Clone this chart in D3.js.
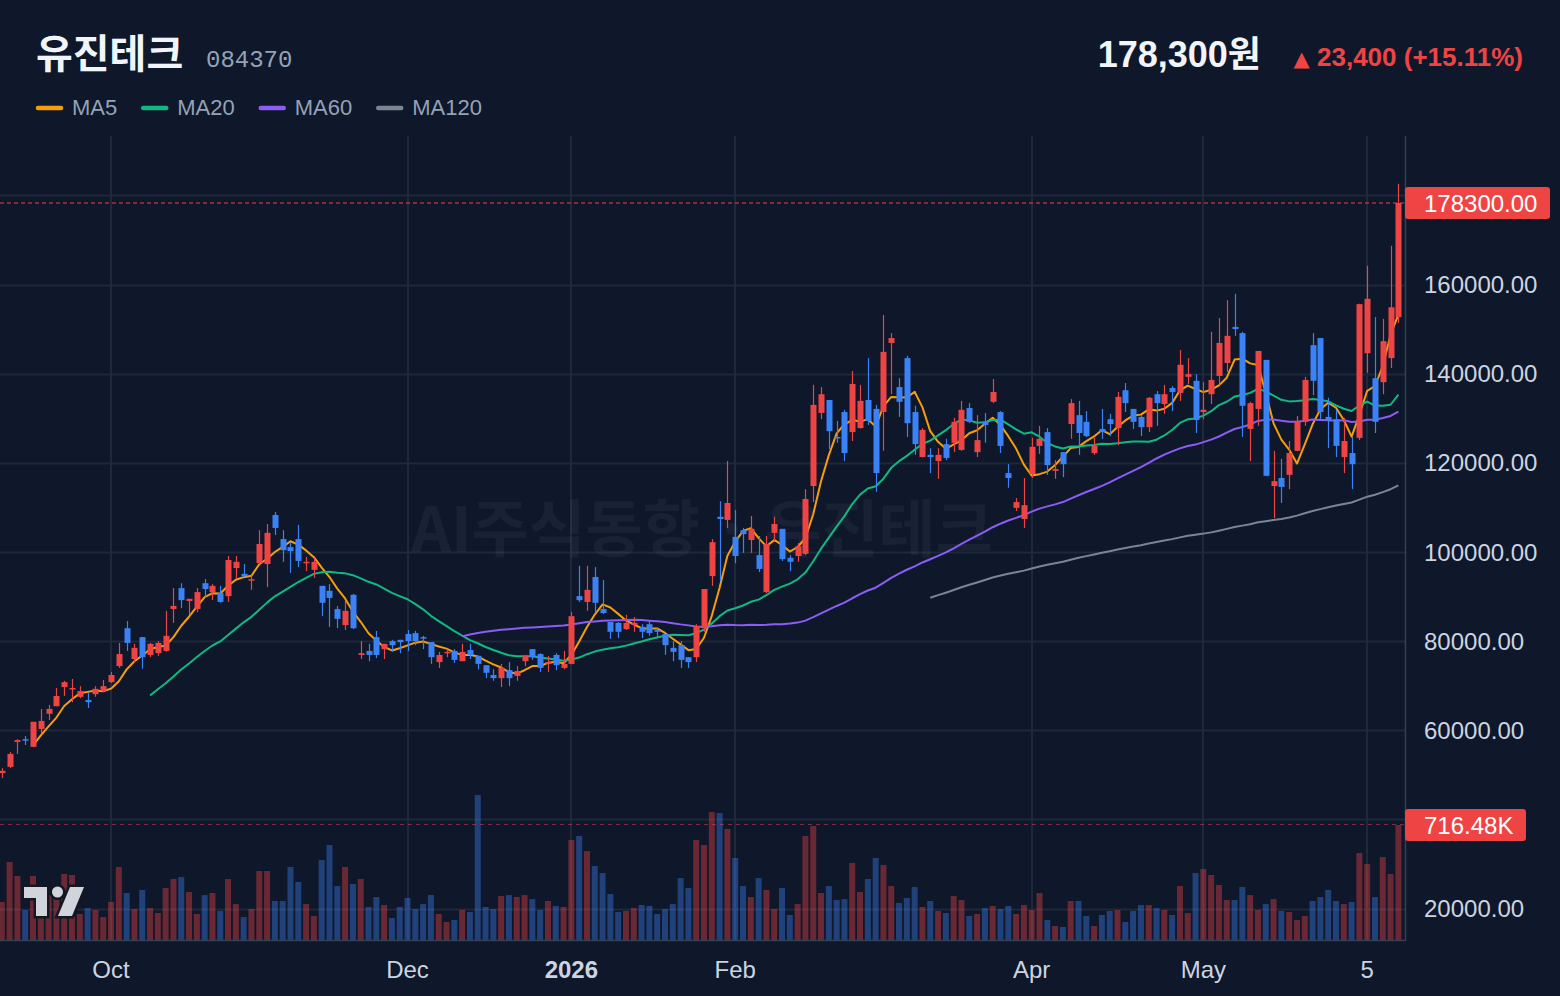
<!DOCTYPE html>
<html>
<head>
<meta charset="utf-8">
<script src="https://cdn.jsdelivr.net/npm/d3@7"></script>
<style>
  html, body { margin: 0; background: #0f172a; }
  svg { display: block; }
</style>
</head>
<body>
<svg id="chart"></svg>
<script>
// Chart size and plot box
const width = 1560, height = 996;
const plot = { left: 0, right: 1405, top: 136, bottom: 940 };

// Daily OHLC (won), oldest first
const opens = [50400,51800,57400,58000,56300,60300,63700,65400,69700,69300,67500,66800,68100,68800,70800,74400,82900,76000,80900,76900,
  77300,77800,87200,91900,89000,87200,93000,91000,90800,90100,96400,95100,93700,97500,97300,108300,102900,101100,102900,97500,
  96000,92400,91300,87200,83600,90400,76900,77800,80900,78200,80000,80300,81600,81800,80900,79800,75300,77300,77800,75500,
  78000,76700,74600,72400,71700,73500,72200,75500,78200,77100,74900,76900,74000,74900,90100,88800,94400,87200,84300,84100,
  82700,83600,83200,83800,82500,81600,78500,79100,76400,76400,82900,94600,107900,107200,103400,104900,102700,99300,91000,104300,
  105200,98700,99100,99600,114800,131200,134100,125800,131400,126900,127800,134100,132100,131400,146900,137000,143500,131400,121300,121800,
  120400,124200,124500,122900,132300,122400,129200,133700,131400,117700,109900,107400,117500,123800,126900,118200,122400,128700,130700,129200,
  122200,127600,129800,127800,136300,132100,130300,128000,135400,133200,136800,135700,139300,138400,131400,135400,139500,142400,150500,149100,
  127600,132100,143100,114800,116600,117300,122700,129200,146400,148000,130300,129800,121300,122200,125600,144600,139000,138100,143500,152700];
const highs = [51500,55100,58000,58700,61900,64800,65700,69500,71100,71500,69900,68400,69900,71300,73100,79600,84500,79400,80900,79600,
  80000,86800,91900,93000,89500,91900,93900,92800,92400,99100,99100,97300,94800,104900,106300,109000,104900,102200,106100,98900,
  98700,92400,92800,87900,89000,90600,80000,79400,82300,79400,80300,80300,82500,82300,81200,79800,77600,78200,78200,79400,
  79400,76700,74600,73700,74900,75300,74400,76900,78200,77300,76700,77300,77800,86500,96900,96900,96600,93700,84300,84300,
  85900,85400,83800,84700,82900,81600,80000,80000,76400,83800,91700,102900,111400,120400,109400,105400,108100,103600,103600,107900,
  105200,99300,102000,114100,137500,137000,134100,129400,131900,140600,137500,143500,133000,153200,149100,139000,144000,132800,127800,123300,
  123300,125400,130100,133900,133400,130700,131200,138800,131600,119700,112100,116600,125600,128300,127800,120600,122400,134300,133900,131600,
  125600,132100,131000,135900,137900,132100,130700,134800,136100,137500,137200,145300,143500,139900,138100,149400,152500,156500,157900,149400,
  133700,145100,143100,122700,120900,124900,130500,139300,149100,148000,134600,131900,130100,125800,155700,164200,152700,152300,168700,182600];
const lows = [49300,51500,54700,56700,56200,59400,62300,65400,67700,66300,67200,65000,67500,68600,70600,74000,77800,75300,73800,76400,
  76700,77600,84100,87400,85900,86500,89700,89200,88600,88800,93900,94400,91500,97300,92100,103800,97800,95300,96600,95700,
  94200,85600,83200,82900,82500,82700,76000,75500,76200,76000,77600,77300,77800,79100,78200,74900,74000,76400,75100,75500,
  76000,73700,71700,71100,69700,69900,71100,74400,75800,73100,73100,73500,73700,74800,88800,86800,86300,86100,80500,80700,
  82500,82100,80700,81200,80900,76900,75500,74000,74000,75300,82100,92400,93500,105400,97500,99800,99800,95500,90800,102200,
  98000,95700,97800,99300,111200,129800,123100,124500,120400,124900,127700,128500,113500,122700,135400,130300,125800,121800,121200,117700,
  116400,120600,122400,122700,128900,121300,124500,133400,122200,114400,109200,105400,116600,122000,117300,116400,116800,125400,121800,125800,
  121800,125400,126000,124000,131400,127600,126000,126900,128300,131000,131600,133900,137700,126700,129800,133200,137500,140400,148500,125800,
  120400,128300,117000,107600,111000,114100,122600,128300,135200,129800,123300,121300,117700,114100,125100,140200,126700,135400,141300,151400];
const closes = [50900,54700,57800,57800,61900,62100,64800,67700,70800,69500,68800,66300,69300,69900,72400,77100,79600,78500,76400,79400,
  79600,81200,87900,89200,89500,91000,91700,92400,88800,98200,97800,94600,93900,101800,104300,105400,100400,100200,98000,97800,
  97800,88600,89700,85000,86800,82900,77300,76900,76900,79400,79100,79800,80000,80000,80700,76400,76900,77600,75800,77600,
  76900,74900,72900,71700,74000,71700,73300,76700,76400,74000,75300,74600,74900,85600,89200,91500,88600,86300,82100,82100,
  84100,84100,82100,81800,82100,79100,77600,75800,75300,83400,91700,102200,107400,111000,99100,104000,105200,96200,101800,106300,
  98400,97800,101300,111900,133000,135400,127100,125600,122200,137700,133900,129400,117700,144900,148000,133700,128900,124200,127400,121300,
  121800,121100,129200,131900,129200,125100,128500,135900,123800,116600,111200,110500,123600,125400,119500,118600,119700,133400,126700,126000,
  123800,126900,128700,134800,133400,129200,128000,134600,133400,135400,135900,142000,139900,129600,131900,138600,146900,148500,150000,132800,
  133400,145100,117100,115900,114600,122200,129400,138600,138400,131400,129600,123800,124900,119700,155600,156800,129200,147300,154900,178300];
// Daily volume, thousands of shares
const volumesK = [237,486,399,187,399,312,280,299,411,405,162,199,187,143,237,455,293,193,312,199,
  168,324,380,392,299,162,280,293,181,380,224,143,193,430,430,243,243,455,361,224,
  150,498,592,336,455,349,380,206,268,218,137,206,262,193,224,280,162,112,125,187,
  174,903,206,193,274,280,268,280,255,187,243,212,206,623,648,554,461,417,287,174,
  181,199,218,212,162,193,224,386,324,623,592,797,791,692,511,336,268,386,312,193,
  324,156,224,648,710,293,336,249,255,480,299,380,511,467,336,231,262,330,206,243,
  181,168,274,249,150,162,199,212,193,212,162,218,187,293,125,87,81,243,243,150,
  87,156,181,187,112,181,218,218,199,187,156,336,168,417,442,405,343,249,249,330,
  280,187,224,255,181,174,125,150,243,268,312,243,224,237,542,473,268,517,411,716.48];

// Time axis ticks (bar index) and labels
const xTickIndex = [14, 52, 73, 94, 132, 154, 175];
const xTickLabels = ["Oct", "Dec", "2026", "Feb", "Apr", "May", "5"];
const priceTicks = [20000, 60000, 80000, 100000, 120000, 140000, 160000];

// Moving averages shown in legend
const maPeriods = [5, 20, 60, 120];
const maNames = ["MA5", "MA20", "MA60", "MA120"];
const maColors = ["#f59e0b", "#10b981", "#8b5cf6", "#7c8594"];

const upColor = "#ef4444", downColor = "#3b82f6";
const gridColor = "#1e293b";
const axisText = "#cbd5e1";

const n = closes.length;
const last = n - 1;
const lastVolume = volumesK[last] * 1000;

const svg = d3.select("#chart").attr("width", width).attr("height", height);

// Scales
const x = d3.scaleLinear().domain([0, n - 1]).range([1.8, 1398.4]);
const y = d3.scaleLinear().domain([20000, 180000]).range([908.6, 195.4]);
const yv = d3.scaleLinear().domain([0, lastVolume]).range([plot.bottom, 825]);

svg.append("defs").append("clipPath").attr("id", "plotclip")
  .append("rect").attr("x", plot.left).attr("y", plot.top)
  .attr("width", plot.right - plot.left).attr("height", plot.bottom - plot.top);

// Grid
const grid = svg.append("g");
grid.selectAll(".hg").data(d3.range(20000, 180001, 20000)).enter().append("line")
  .attr("x1", plot.left).attr("x2", plot.right)
  .attr("y1", d => Math.round(y(d)) + 0.5).attr("y2", d => Math.round(y(d)) + 0.5)
  .attr("stroke", gridColor).attr("stroke-width", 2);
grid.selectAll(".vg").data(xTickIndex).enter().append("line")
  .attr("x1", d => Math.round(x(d))).attr("x2", d => Math.round(x(d)))
  .attr("y1", plot.top).attr("y2", plot.bottom)
  .attr("stroke", gridColor).attr("stroke-width", 2);

// Watermark
svg.append("text")
  .attr("x", 702).attr("y", 552)
  .attr("text-anchor", "middle")
  .attr("font-family", "'Noto Sans CJK KR', 'Noto Sans', sans-serif")
  .attr("font-weight", 700).attr("font-size", 62)
  .attr("fill", "rgba(148,163,184,0.08)")
  .text("AI주식동향 · 유진테크");

const chart = svg.append("g").attr("clip-path", "url(#plotclip)");

// Volume bars
chart.append("g").selectAll("rect").data(d3.range(n)).enter().append("rect")
  .attr("x", i => x(i) - 3)
  .attr("width", 6)
  .attr("y", i => yv(volumesK[i] * 1000))
  .attr("height", i => plot.bottom - yv(volumesK[i] * 1000))
  .attr("fill", i => closes[i] >= opens[i] ? "rgba(239,68,68,0.4)" : "rgba(59,130,246,0.4)");

// Moving averages
function sma(p) {
  return closes.map((c, i) => i < p - 1 ? null : d3.mean(closes.slice(i - p + 1, i + 1)));
}
const maLine = d3.line()
  .defined(d => d.v != null)
  .x(d => x(d.i)).y(d => y(d.v));
maPeriods.forEach((p, k) => {
  const vals = sma(p).map((v, i) => ({ i, v }));
  chart.append("path").datum(vals)
    .attr("d", maLine)
    .attr("fill", "none")
    .attr("stroke", maColors[k])
    .attr("stroke-width", 2)
    .attr("stroke-linejoin", "round");
});

// Candles
const candles = chart.append("g").selectAll("g").data(d3.range(n)).enter().append("g");
candles.append("line")
  .attr("x1", i => Math.round(x(i)) + 0.5).attr("x2", i => Math.round(x(i)) + 0.5)
  .attr("y1", i => y(highs[i])).attr("y2", i => y(lows[i]))
  .attr("stroke", i => closes[i] >= opens[i] ? upColor : downColor)
  .attr("stroke-width", 1.2);
candles.append("rect")
  .attr("x", i => Math.round(x(i)) - 2.5)
  .attr("width", 6)
  .attr("y", i => y(Math.max(opens[i], closes[i])))
  .attr("height", i => Math.max(1.5, Math.abs(y(opens[i]) - y(closes[i]))))
  .attr("fill", i => closes[i] >= opens[i] ? upColor : downColor);

// Last price and last volume lines
svg.append("line")
  .attr("x1", plot.left).attr("x2", plot.right)
  .attr("y1", y(closes[last])).attr("y2", y(closes[last]))
  .attr("stroke", upColor).attr("stroke-width", 1).attr("stroke-dasharray", "4,3");
svg.append("line")
  .attr("x1", plot.left).attr("x2", plot.right)
  .attr("y1", yv(lastVolume) - 0.5).attr("y2", yv(lastVolume) - 0.5)
  .attr("stroke", "rgba(239,68,68,0.5)").attr("stroke-width", 1).attr("stroke-dasharray", "4,4");

// Borders
svg.append("line").attr("x1", plot.right + 0.5).attr("x2", plot.right + 0.5)
  .attr("y1", plot.top).attr("y2", plot.bottom + 1).attr("stroke", "#334155").attr("stroke-width", 1.5);
svg.append("line").attr("x1", plot.left).attr("x2", plot.right + 1)
  .attr("y1", plot.bottom + 0.5).attr("y2", plot.bottom + 0.5).attr("stroke", "#334155").attr("stroke-width", 1.5);

// Price axis labels
const axisFont = "'Liberation Sans', Arial, sans-serif";
svg.append("g").selectAll("text").data(priceTicks).enter().append("text")
  .attr("x", 1424).attr("y", d => y(d))
  .attr("dy", "0.36em")
  .attr("font-family", axisFont).attr("font-size", 24)
  .attr("fill", axisText)
  .text(d => d3.format(".2f")(d));

// Last price tag
svg.append("rect").attr("x", plot.right).attr("y", y(closes[last]) - 16)
  .attr("width", 145).attr("height", 32).attr("rx", 3).attr("fill", upColor);
svg.append("text").attr("x", 1424).attr("y", y(closes[last])).attr("dy", "0.36em")
  .attr("font-family", axisFont).attr("font-size", 24).attr("fill", "#ffffff")
  .text(d3.format(".2f")(closes[last]));

// Last volume tag
svg.append("rect").attr("x", plot.right).attr("y", yv(lastVolume) - 16)
  .attr("width", 121).attr("height", 32).attr("rx", 3).attr("fill", upColor);
svg.append("text").attr("x", 1424).attr("y", yv(lastVolume)).attr("dy", "0.36em")
  .attr("font-family", axisFont).attr("font-size", 24).attr("fill", "#ffffff")
  .text(d3.format(".2f")(lastVolume / 1000) + "K");

// Time axis labels
svg.append("g").selectAll("text").data(xTickIndex).enter().append("text")
  .attr("x", d => x(d)).attr("y", 969).attr("dy", "0.36em")
  .attr("text-anchor", "middle")
  .attr("font-family", axisFont).attr("font-size", 24)
  .attr("font-weight", (d, k) => xTickLabels[k] === "2026" ? 700 : 400)
  .attr("fill", axisText)
  .text((d, k) => xTickLabels[k]);

// Header
const uiFont = "'Liberation Sans', Arial, 'Noto Sans CJK KR', sans-serif";
svg.append("text").attr("x", 36).attr("y", 68)
  .attr("font-family", "'Noto Sans CJK KR', sans-serif").attr("font-weight", 700).attr("font-size", 40)
  .attr("fill", "#f1f5f9").text("유진테크");
svg.append("text").attr("x", 206).attr("y", 67)
  .attr("font-family", "'Liberation Mono', 'DejaVu Sans Mono', monospace").attr("font-size", 24)
  .attr("fill", "#94a3b8").text("084370");

const change = closes[last] - closes[last - 1];
const changePct = change / closes[last - 1] * 100;
svg.append("text").attr("x", 1261).attr("y", 67).attr("text-anchor", "end")
  .attr("font-family", uiFont).attr("font-weight", 700).attr("font-size", 36)
  .attr("fill", "#f1f5f9").text(d3.format(",")(closes[last]) + "원");
const chg = svg.append("text").attr("x", 1523).attr("y", 66).attr("text-anchor", "end")
  .attr("font-family", uiFont).attr("font-weight", 700).attr("font-size", 26)
  .attr("fill", upColor);
chg.append("tspan").attr("font-family", "'DejaVu Sans', sans-serif").attr("font-size", 21).text("▲ ");
chg.append("tspan").text(d3.format(",")(change) + " (+" + changePct.toFixed(2) + "%)");

// Legend
let lx = 36;
maNames.forEach((name, k) => {
  svg.append("line").attr("x1", lx + 2).attr("x2", lx + 25).attr("y1", 108).attr("y2", 108)
    .attr("stroke", maColors[k]).attr("stroke-width", 4.5).attr("stroke-linecap", "round");
  const t = svg.append("text").attr("x", lx + 36).attr("y", 115)
    .attr("font-family", uiFont).attr("font-size", 22).attr("fill", "#94a3b8").text(name);
  lx += 36 + t.node().getComputedTextLength() + 24;
});

// TradingView-style logo
const logo = svg.append("g");
const logoShapes = [
  "M24,887 L47,887 L47,916 L36,916 L36,898 L24,898 Z",
  "M70,887 L84,887 L72,916 L58,916 Z"
];
logoShapes.forEach(s => {
  logo.append("path").attr("d", s).attr("fill", "#d1d5db")
    .attr("stroke", "#131722").attr("stroke-width", 5).attr("paint-order", "stroke");
});
logo.append("circle").attr("cx", 57.5).attr("cy", 892).attr("r", 5.5)
  .attr("fill", "#d1d5db").attr("stroke", "#131722").attr("stroke-width", 5).attr("paint-order", "stroke");
</script>
</body>
</html>
